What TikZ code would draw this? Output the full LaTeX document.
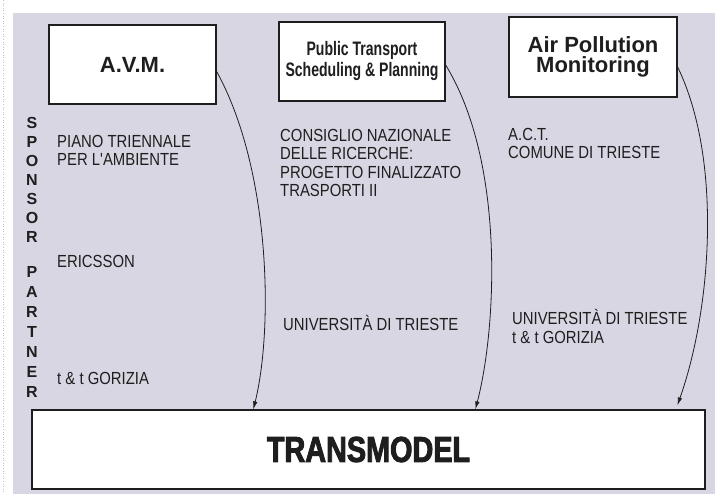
\documentclass[tikz,border=0pt]{standalone}
\usepackage{fontspec}
\setmainfont{Liberation Sans}
\newfontfamily\narrowsf[FakeStretch=0.85]{Liberation Sans}
\newfontfamily\condsf[FakeStretch=0.72]{Liberation Sans}
\newfontfamily\heavysf[FakeStretch=0.8,FakeBold=2.5]{Liberation Sans}
\usetikzlibrary{
  arrows.meta,
  positioning
}

\definecolor{panelbg}{RGB}{216,214,226}
\definecolor{ink}{RGB}{30,30,30}

\begin{document}
\begin{tikzpicture}[
  x=1pt, y=-1pt,
  topbox/.style={
    rectangle, draw=ink, line width=1.3pt, fill=white,
    minimum width=167pt, minimum height=79pt, align=center,
    inner sep=0pt, text=ink
  },
  basebox/.style={topbox, minimum width=673pt},
  plain/.style={
    font=\narrowsf\fontsize{17.5}{18.5}\selectfont, text=ink,
    align=left, inner sep=0pt, anchor=north west
  },
  vlabel/.style={
    font=\bfseries\fontsize{16}{19}\selectfont, text=ink,
    align=center, inner sep=0pt
  },
  feed/.style={-{Latex[length=8pt,width=4.5pt]}, ink, line width=0.8pt},
]
\useasboundingbox (0,0) rectangle (722,494);

% page edge and tinted panel
\draw[black!25, dotted, line width=0.6pt] (3,0) -- (3,494);
\fill[panelbg] (13,13) rectangle (715,494);

% Projects (top row)
\node[topbox, font=\bfseries\fontsize{22}{22}\selectfont] (avm) at (132.5,64.5)
  {A.V.M.};
\node[topbox, minimum width=166pt, font=\condsf\bfseries\fontsize{19.5}{21}\selectfont]
  (pts) at (362,61.5) {Public Transport\\Scheduling \& Planning};
\node[topbox, minimum width=168pt, minimum height=80pt,
  font=\bfseries\fontsize{22}{20.5}\selectfont]
  (apm) at (593,57) {Air Pollution\\Monitoring};

% Common model (bottom)
\node[basebox, font=\heavysf\bfseries\fontsize{36}{36}\selectfont]
  (trans) at (368.5,449.5) {TRANSMODEL};

% Side labels
\node[vlabel] (sponsor) at (32,180) {S\\P\\O\\N\\S\\O\\R};
\node[vlabel, font=\bfseries\fontsize{16}{20}\selectfont]
  (partner) at (32,332) {P\\A\\R\\T\\N\\E\\R};

% Sponsors and partners per project
\node[plain] (spavm) at (57,135) {PIANO TRIENNALE\\PER L'AMBIENTE};
\node[plain] (paavm) at (57,255) {ERICSSON};
\node[plain] (paavm2) at (57,372) {t \& t GORIZIA};

\node[plain] (sppts) at (280,129)
  {CONSIGLIO NAZIONALE\\DELLE RICERCHE:\\PROGETTO FINALIZZATO\\TRASPORTI II};
\node[plain, anchor=base west] (papts) at (283,330) {UNIVERSITÀ DI TRIESTE};

\node[plain] (spapm) at (508,128) {A.C.T.\\COMUNE DI TRIESTE};
\node[plain, anchor=base west] (paapm) at (512,343)
  {UNIVERSITÀ DI TRIESTE\\t \& t GORIZIA};

% Feeds into the common model
\draw[feed] ([yshift=-7pt]avm.east)
  .. controls +(54,98) and +(20,-81) .. ([xshift=222pt]trans.north west);
\draw[feed] ([yshift=-3.5pt]pts.east)
  .. controls +(60,98) and +(21,-80) .. ([xshift=444pt]trans.north west);
\draw[feed] ([yshift=-10pt]apm.east)
  .. controls +(45,93) and +(34,-96) .. ([xshift=646pt,yshift=4pt]trans.north west);

\end{tikzpicture}
\end{document}
